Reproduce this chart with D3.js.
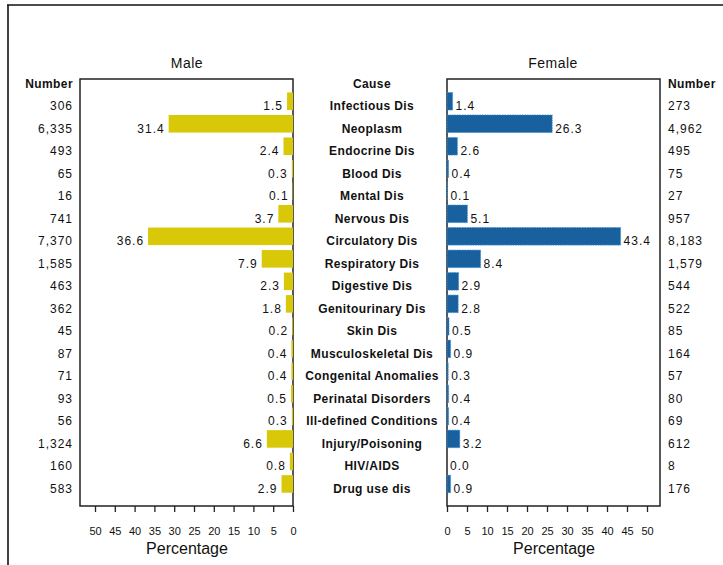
<!DOCTYPE html>
<html>
<head>
<meta charset="utf-8">
<script src="https://cdn.jsdelivr.net/npm/d3@7/dist/d3.min.js"></script>
<style>
  html, body { margin: 0; padding: 0; background: #fff; }
  svg { display: block; }
  text { font-family: "Liberation Sans", Arial, sans-serif; fill: #111; }
</style>
</head>
<body>
<svg id="chart" width="723" height="565"></svg>
<script>
const causes = ["Infectious Dis","Neoplasm","Endocrine Dis","Blood Dis","Mental Dis","Nervous Dis","Circulatory Dis","Respiratory Dis","Digestive Dis","Genitourinary Dis","Skin Dis","Musculoskeletal Dis","Congenital Anomalies","Perinatal Disorders","Ill-defined Conditions","Injury/Poisoning","HIV/AIDS","Drug use dis"];
const malePct = [1.5,31.4,2.4,0.3,0.1,3.7,36.6,7.9,2.3,1.8,0.2,0.4,0.4,0.5,0.3,6.6,0.8,2.9];
const maleNum = ["306","6,335","493","65","16","741","7,370","1,585","463","362","45","87","71","93","56","1,324","160","583"];
const femalePct = [1.4,26.3,2.6,0.4,0.1,5.1,43.4,8.4,2.9,2.8,0.5,0.9,0.3,0.4,0.4,3.2,0.0,0.9];
const femaleNum = ["273","4,962","495","75","27","957","8,183","1,579","544","522","85","164","57","80","69","612","8","176"];
const pctTicks = [0,5,10,15,20,25,30,35,40,45,50];

const svg = d3.select("#chart");

// outer frame (top and left edges)
svg.append("line").attr("x1",7).attr("x2",723).attr("y1",5).attr("y2",5).attr("stroke","#111").attr("stroke-width",1.6);
svg.append("line").attr("x1",8).attr("x2",8).attr("y1",5).attr("y2",565).attr("stroke","#111").attr("stroke-width",1.6);

const y = d3.scaleBand().domain(causes).range([90, 495.2]).paddingInner(0.22).paddingOuter(0.11);
const xM = d3.scaleLinear().domain([0,50]).range([293, 95]);
const xF = d3.scaleLinear().domain([0,50]).range([447, 647]);

const boxTop = 79, boxBot = 506;
const textDy = 9; // baseline offset from band centre
const numStyle = s => s.attr("font-size", 12).attr("letter-spacing", 1);
const boldStyle = s => s.attr("font-size", 12).attr("font-weight", "bold").attr("letter-spacing", 0.4);

// boxes
svg.append("rect").attr("x", 80).attr("y", boxTop).attr("width", xM(0) - 80).attr("height", boxBot - boxTop)
  .attr("fill", "none").attr("stroke", "#222").attr("stroke-width", 1.5);
svg.append("rect").attr("x", xF(0)).attr("y", boxTop).attr("width", 660 - xF(0)).attr("height", boxBot - boxTop)
  .attr("fill", "none").attr("stroke", "#222").attr("stroke-width", 1.5);

// male bars
svg.append("g").selectAll("rect").data(causes).join("rect")
  .attr("x", (d,i) => xM(malePct[i]))
  .attr("y", d => y(d))
  .attr("width", (d,i) => xM(0) - xM(malePct[i]))
  .attr("height", y.bandwidth())
  .attr("fill", "#D8C807");

// female bars
svg.append("g").selectAll("rect").data(causes).join("rect")
  .attr("x", xF(0))
  .attr("y", d => y(d))
  .attr("width", (d,i) => xF(femalePct[i]) - xF(0))
  .attr("height", y.bandwidth())
  .attr("fill", "#18609E")
  .attr("stroke", "#3f8fcf").attr("stroke-width", 0.8).attr("stroke-dasharray", "1.5,1");

const cy = d => y(d) + y.bandwidth()/2 + textDy;

// male value labels
svg.append("g").selectAll("text").data(causes).join("text")
  .attr("x", (d,i) => xM(malePct[i]) - 4).attr("y", cy)
  .attr("text-anchor", "end").text((d,i) => malePct[i].toFixed(1)).call(numStyle);

// female value labels
svg.append("g").selectAll("text").data(causes).join("text")
  .attr("x", (d,i) => xF(femalePct[i]) + 3).attr("y", cy)
  .attr("text-anchor", "start").text((d,i) => femalePct[i].toFixed(1)).call(numStyle);

// male numbers
svg.append("g").selectAll("text").data(causes).join("text")
  .attr("x", 73).attr("y", cy).attr("text-anchor", "end")
  .text((d,i) => maleNum[i]).call(numStyle);

// female numbers
svg.append("g").selectAll("text").data(causes).join("text")
  .attr("x", 668).attr("y", cy).attr("text-anchor", "start")
  .text((d,i) => femaleNum[i]).call(numStyle);

// cause labels
svg.append("g").selectAll("text").data(causes).join("text")
  .attr("x", 372).attr("y", cy).attr("text-anchor", "middle")
  .text(d => d).call(boldStyle);

// headers
svg.append("text").attr("x", 73).attr("y", 88).attr("text-anchor", "end").text("Number").call(boldStyle);
svg.append("text").attr("x", 668).attr("y", 88).attr("text-anchor", "start").text("Number").call(boldStyle);
svg.append("text").attr("x", 372).attr("y", 88).attr("text-anchor", "middle").text("Cause").call(boldStyle);
svg.append("text").attr("x", 187).attr("y", 68).attr("text-anchor", "middle").attr("font-size", 14).attr("letter-spacing", 0.5).text("Male");
svg.append("text").attr("x", 553).attr("y", 68).attr("text-anchor", "middle").attr("font-size", 14).attr("letter-spacing", 0.5).text("Female");

// axes
function drawAxis(scale) {
  const g = svg.append("g").attr("transform", `translate(0,${boxBot})`)
    .call(d3.axisBottom(scale).tickValues(pctTicks).tickSize(6).tickFormat(d3.format("d")));
  g.select(".domain").remove();
  g.selectAll(".tick line").attr("stroke", "#222").attr("stroke-width", 1.3);
  g.selectAll(".tick text").attr("y", 535 - boxBot).attr("dy", 0)
    .attr("font-size", 11).attr("font-family", "Liberation Sans, Arial, sans-serif").attr("fill", "#111");
}
drawAxis(xM);
drawAxis(xF);

svg.append("text").attr("x", 187).attr("y", 554).attr("text-anchor", "middle").attr("font-size", 16).text("Percentage");
svg.append("text").attr("x", 554).attr("y", 554).attr("text-anchor", "middle").attr("font-size", 16).text("Percentage");
</script>
</body>
</html>
